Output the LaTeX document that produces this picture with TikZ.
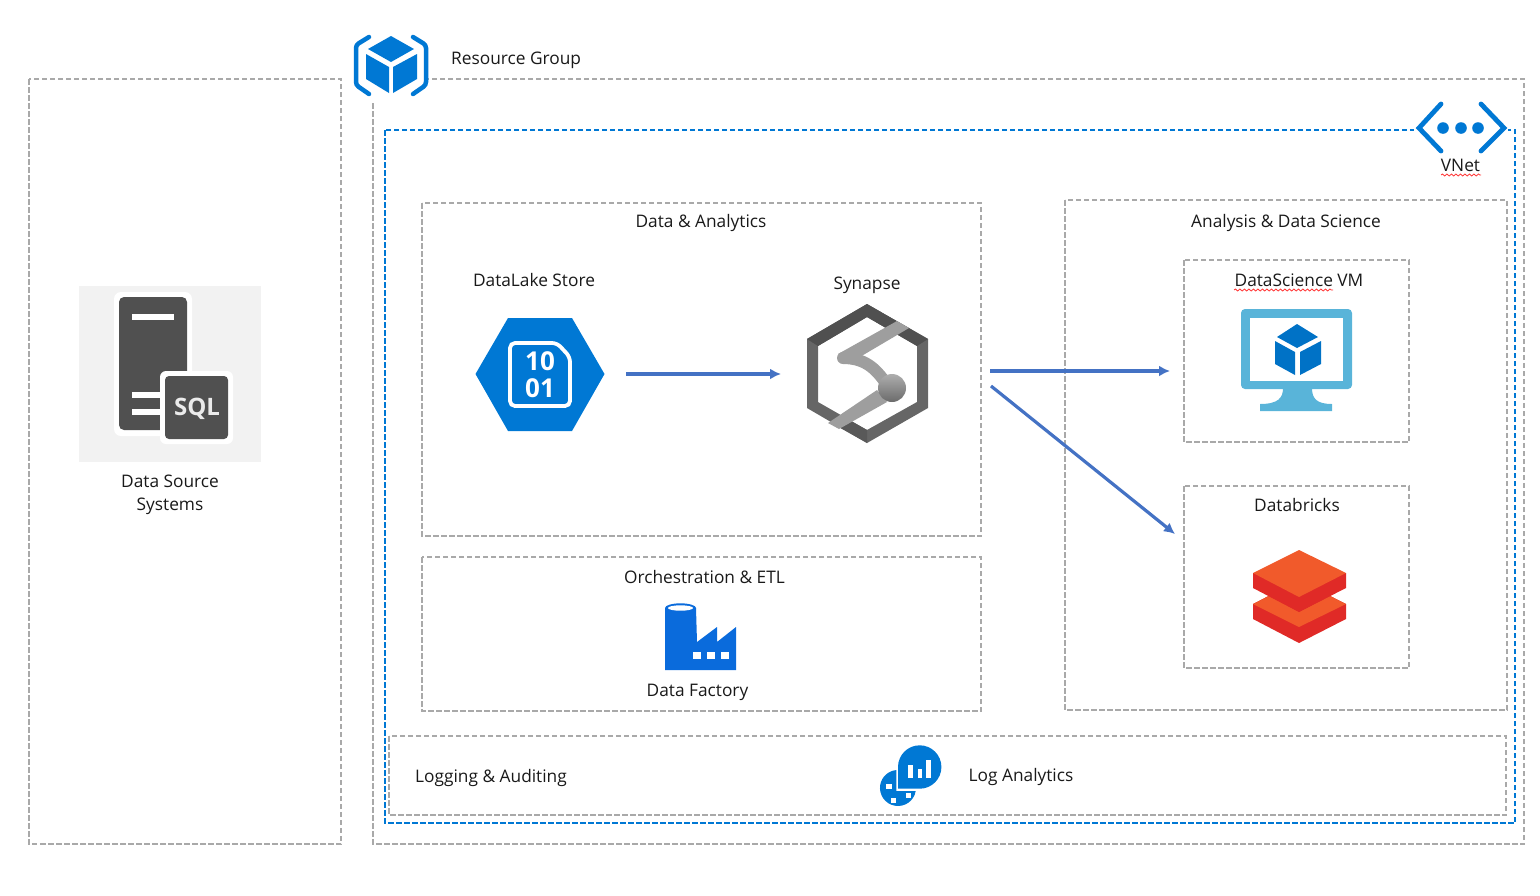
\documentclass[tikz,border=0pt]{standalone}
\usepackage{fontspec}
\setmainfont{Open Sans}
\usetikzlibrary{arrows.meta,decorations.pathmorphing}
\definecolor{azure}{HTML}{0078D4}
\definecolor{boxgray}{HTML}{A9A9A9}
\definecolor{arrowblue}{HTML}{4472C4}
\definecolor{sqldark}{HTML}{505050}
\definecolor{vmblue}{HTML}{59B4D9}
\definecolor{cubeblue}{HTML}{0072C6}
\definecolor{factoryblue}{HTML}{0A6BDC}
\definecolor{brickorange}{HTML}{F15A2B}
\definecolor{brickred}{HTML}{E02A27}
\tikzset{
  zonebox/.style={draw=boxgray,line width=1.6pt,dash pattern=on 5.5pt off 2.5pt},
  vnetbox/.style={draw=azure,line width=2.2pt,dash pattern=on 5.5pt off 2.5pt},
  flow/.style={draw=arrowblue,line width=3.2pt,-{Latex[length=11pt,width=11pt]}},
  label/.style={font=\fontsize{17.3}{23.5}\selectfont,text=black!90,inner sep=0pt,align=center},
  spell/.style={draw=red!80,line width=0.8pt,decorate,decoration={snake,amplitude=1pt,segment length=4.5pt}}
}
\begin{document}
\begin{tikzpicture}[x=1pt,y=-1pt]
  \useasboundingbox (0,0) rectangle (1540,895);
  % Zones
  \draw[zonebox] (29,79) rectangle (341,844);   % sources
  \draw[zonebox] (373,79) rectangle (1524,844); % resource group
  \draw[vnetbox] (385,130) rectangle (1515,823);
  \draw[zonebox] (422,203) rectangle (981,536); % data
  \draw[zonebox] (422,557) rectangle (981,711); % orchestration
  \draw[zonebox] (1065,200) rectangle (1507,710); % analysis
  \draw[zonebox] (1184,260) rectangle (1409,442); % VM
  \draw[zonebox] (1184,486) rectangle (1409,668); % databricks
  \draw[zonebox] (389,736) rectangle (1506,815); % logging
  % Resource group icon
  \fill[white] (345,28) rectangle (428,102);
  \draw[azure,line width=4.5pt,line cap=round,rounded corners=3pt]
      (369,37) -- (356,45) -- (356,85) -- (369,94);
  \draw[azure,line width=4.5pt,line cap=round,rounded corners=3pt]
      (413,37) -- (426,45) -- (426,85) -- (413,94);
  \fill[azure] (391,36) -- (414,49) -- (391,62) -- (368,49) -- cycle;
  \fill[azure] (366,54) -- (389,67) -- (389,93) -- (366,79) -- cycle;
  \fill[azure] (393,67) -- (417,54) -- (417,79) -- (393,93) -- cycle;
  \node[label,anchor=west] (rglabel) at (451,60) {Resource Group};
  % VNet icon
  \fill[white] (1414,100) rectangle (1508,158);
  \draw[azure,line width=4.8pt,line cap=round]
      (1441,104) -- (1419,128) -- (1441,151);
  \draw[azure,line width=4.8pt,line cap=round]
      (1481,104) -- (1504,128) -- (1481,151);
  \foreach \dotx in {1443,1461,1478}
    \fill[azure] (\dotx,128) circle (5.8);
  \node[label] (vnetlabel) at (1460.5,165) {VNet};
  \draw[spell] (1441,175) -- (1481,175);
  % SQL server
  \fill[black!5] (79,286) rectangle (261,462);
  \fill[white,rounded corners=7pt] (114,292) rectangle (192,436);
  \fill[sqldark,rounded corners=5pt] (119,430) -- (119,297) -- (187,297) -- (187,430) -- cycle;
  \fill[white] (132,314) rectangle (174,320);
  \fill[white] (132,392) rectangle (165,398);
  \fill[white] (132,409) rectangle (165,415);
  \fill[white,rounded corners=6pt] (160,371) rectangle (233,444);
  \fill[sqldark,rounded corners=4pt] (165,376) rectangle (228,439);
  \node[font=\fontsize{24}{24}\selectfont\bfseries,text=white!92!black,inner sep=0pt] (sqllabel) at (197,409) {SQL};
  \node[label] (srclabel) at (170,495) {Data Source\\Systems};
  % DataLake hexagon
  \fill[azure] (475.5,374) -- (508,318) -- (572,318) -- (604.5,374) -- (572,431) -- (508,431) -- cycle;
  \draw[white,line width=3.8pt,rounded corners=5pt]
      (557,343) -- (510,343) -- (510,406) -- (570,406) -- (570,357) -- cycle;
  \node[font=\fontsize{26}{26}\selectfont\bfseries,text=white,inner sep=0pt] (lake10) at (540,361) {10};
  \node[font=\fontsize{26}{26}\selectfont\bfseries,text=white,inner sep=0pt] (lake01) at (540,388) {01};
  \node[label] (lakelabel) at (534,280) {DataLake Store};
  \coordinate (lakeout) at (626,374);
  % Synapse hexagon
  \fill[black!60,even odd rule]
      (867,304) -- (928,339) -- (928,408) -- (867,443) -- (807,408) -- (807,339) -- cycle
      (867,317) -- (917,346) -- (917,402) -- (867,430) -- (818,402) -- (818,346) -- cycle;
  \fill[sqldark] (807,339) -- (867,304) -- (928,339) -- (917,346) -- (867,317) -- (818,346) -- cycle;
  \fill[black!65] (835,425) -- (867,443) -- (867,430) -- (844,417) -- cycle;
  % bandes
  \fill[black!38] (897,321) -- (909,328) -- (848,364) -- (838,354) -- cycle;
  \draw[black!38,line width=12pt,line cap=round] (843,358) .. controls (868,358) and (878,372) .. (888,386);
  \fill[black!38] (877,390) -- (887,402) -- (839,429) -- (828,423) -- cycle;
  \shade[top color=black!32,bottom color=black!58] (892,388) circle (14);
  \node[label] (synlabel) at (867,285) {Synapse};
  \coordinate (synout) at (990,371);
  \coordinate (synoutb) at (991,386);
  % Data Factory
  \fill[factoryblue] (665,608) -- (665,670) -- (736,670) -- (736,627) -- (717,642) -- (717,627) -- (697,642) -- (696,608) -- cycle;
  \fill[factoryblue] (680.5,608) ellipse (15.5 and 4.7);
  \fill[white] (680.5,608) ellipse (12.5 and 2.7);
  \foreach \winx in {693,707,721}
    \fill[white] (\winx,652) rectangle ++(8,7);
  \node[label] (orchlabel) at (704.5,577) {Orchestration \& ETL};
  \node[label] (adflabel) at (697.5,692) {Data Factory};
  % VM
  \fill[vmblue] (1260,411) -- (1260,404) .. controls (1278,404) and (1283,398) .. (1283,388)
      -- (1312,388) .. controls (1312,398) and (1316,404) .. (1332,404) -- (1332,411) -- cycle;
  \fill[vmblue,rounded corners=4pt] (1241,309) rectangle (1352,389);
  \fill[white] (1250,318) rectangle (1343,381);
  \fill[cubeblue] (1297,324) -- (1318,337) -- (1297,348) -- (1277,337) -- cycle;
  \fill[cubeblue] (1275,341) -- (1295,352) -- (1295,375) -- (1275,364) -- cycle;
  \fill[cubeblue] (1300,352) -- (1321,341) -- (1321,364) -- (1300,375) -- cycle;
  \node[label] (vmlabel) at (1299,280) {DataScience VM};
  \draw[spell] (1234,290) -- (1333,290);
  \coordinate (vmin) at (1170,371);
  % Databricks
  \fill[brickred] (1253,604) -- (1253,619) -- (1299,643) -- (1346,619) -- (1346,604) -- (1299,580) -- cycle;
  \fill[brickorange] (1253,604) -- (1269,596) -- (1299,612) -- (1330,596) -- (1346,604) -- (1299,627) -- cycle;
  \fill[brickred] (1253,573) -- (1253,588) -- (1299,612) -- (1346,588) -- (1346,573) -- cycle;
  \fill[brickorange] (1299,550) -- (1346,573) -- (1299,597) -- (1253,573) -- cycle;
  \node[label] (dblabel) at (1297,505) {Databricks};
  \coordinate (dbin) at (1175,534);
  % Log Analytics
  \fill[azure] (896.4,770) -- (896.4,791) -- (915.7,791.1) arc (10:265:18) -- cycle;
  \fill[azure] (898,788.7) -- (898,767) arc (180:450:21.7) -- cycle;
  \fill[white] (908,765) rectangle (912.5,778);
  \fill[white] (917.5,769) rectangle (922,778);
  \fill[white] (926,760) rectangle (931,778);
  \fill[white] (886,784) rectangle (892,789);
  \fill[white] (891,798) rectangle (896,803);
  \fill[white] (906,793) rectangle (911,798);
  \node[label] (loglabel) at (491,778) {Logging \& Auditing};
  \node[label] (lalabel) at (1021,777) {Log Analytics};
  % Titres
  \node[label] (datalabel) at (701,223) {Data \& Analytics};
  \node[label] (analabel) at (1286,223) {Analysis \& Data Science};
  % Flèches
  \draw[flow] (lakeout) -- (781,374);
  \draw[flow] (synout) -- (vmin);
  \draw[flow] (synoutb) -- (dbin);
\end{tikzpicture}
\end{document}
